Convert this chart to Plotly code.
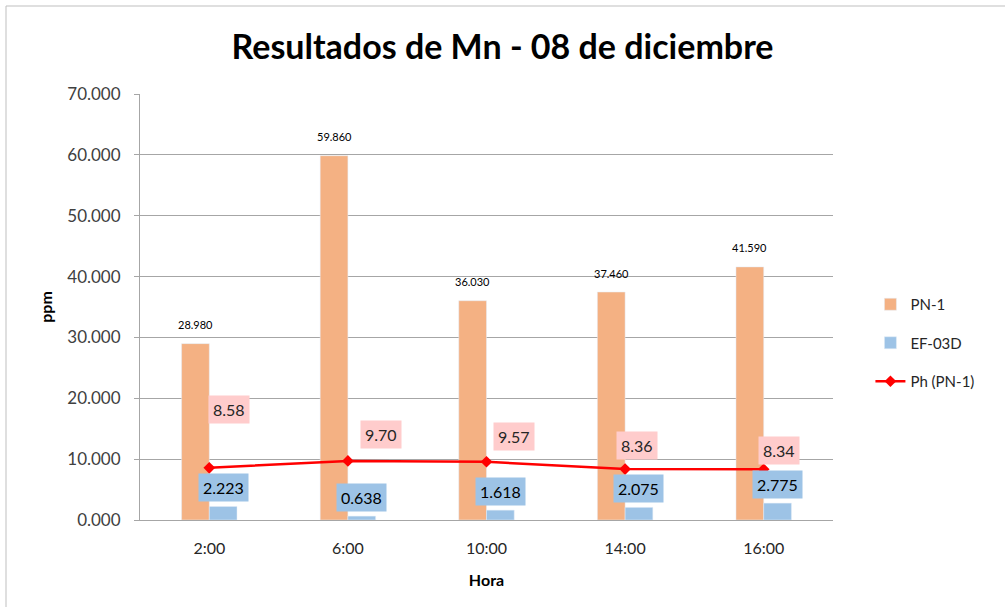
import plotly.graph_objects as go

horas = ["2:00", "6:00", "10:00", "14:00", "16:00"]
pn1 = [28.980, 59.860, 36.030, 37.460, 41.590]
ef03d = [2.223, 0.638, 1.618, 2.075, 2.775]
ph_pn1 = [8.58, 9.70, 9.57, 8.36, 8.34]
y_ticks = [0, 10, 20, 30, 40, 50, 60, 70]

# label offsets (pixels) for the pH labels, as placed in the original
ph_label_dx = [20, 33, 27, 12, 15]
ph_label_dy = [58, 26, 25, 24, 19]

FONT = "Lato, 'Open Sans', sans-serif"
ORANGE = "#F4B183"
BLUE = "#9DC3E6"
PINK = "#FFCCCC"
RED = "#FF0000"
GRID = "#A6A6A6"

fig = go.Figure()
fig.add_trace(go.Bar(x=horas, y=pn1, name="PN-1", marker_color=ORANGE,
                     legendgroup="a"))
fig.add_trace(go.Bar(x=horas, y=ef03d, name="EF-03D", marker_color=BLUE,
                     legendgroup="b"))
fig.add_trace(go.Scatter(x=horas, y=ph_pn1, name="Ph (PN-1)", mode="lines+markers",
                         line=dict(color=RED, width=2.5),
                         marker=dict(symbol="diamond", size=9, color=RED),
                         legendgroup="c"))

half = 13.8
annotations = []
for h, v in zip(horas, pn1):
    annotations.append(dict(x=h, y=v, xref="x", yref="y", text=f"{v:.3f}",
                            showarrow=False, xshift=-half, yshift=19,
                            font=dict(family=FONT, size=11, color="#000000")))
for h, v in zip(horas, ef03d):
    annotations.append(dict(x=h, y=v, xref="x", yref="y", text=f"{v:.3f}",
                            showarrow=False, xshift=half, yshift=19,
                            bgcolor=BLUE, borderpad=4,
                            font=dict(family=FONT, size=16, color="#000000")))
for h, v, dx, dy in zip(horas, ph_pn1, ph_label_dx, ph_label_dy):
    annotations.append(dict(x=h, y=v, xref="x", yref="y", text=f"{v:.2f}",
                            showarrow=False, xshift=dx, yshift=dy,
                            bgcolor=PINK, borderpad=4,
                            font=dict(family=FONT, size=16, color="#262626")))

fig.update_layout(
    width=1005, height=607,
    margin=dict(l=140, r=172, t=94, b=87),
    paper_bgcolor="white", plot_bgcolor="white",
    font=dict(family=FONT, color="#404040"),
    title=dict(text="<b>Resultados de Mn - 08 de diciembre</b>",
               x=0.5, xanchor="center", y=1 - 47 / 607, yanchor="middle",
               font=dict(family=FONT, size=34, color="#000000")),
    barmode="group", bargap=0.6, bargroupgap=0,
    legend=dict(x=1.054, y=0.4155, xanchor="left", yanchor="middle",
                font=dict(family=FONT, size=15, color="#262626"),
                tracegroupgap=16, traceorder="grouped"),
    annotations=annotations,
    showlegend=True,
)
fig.update_xaxes(
    showline=True, linecolor=GRID, linewidth=1, ticks="",
    tickfont=dict(family=FONT, size=16, color="#262626"),
    ticklabelstandoff=14,
    title=dict(text="<b>Hora</b>", font=dict(family=FONT, size=16, color="#000000"),
               standoff=18),
)
fig.update_yaxes(
    range=[0, 70], tickvals=y_ticks, tickformat=".3f",
    showgrid=True, gridcolor=GRID, gridwidth=1,
    showline=True, linecolor=GRID, linewidth=1,
    ticks="outside", ticklen=5, tickcolor=GRID,
    ticklabelstandoff=10,
    tickfont=dict(family=FONT, size=17, color="#404040"),
    zeroline=False,
    title=dict(text="<b>ppm</b>", font=dict(family=FONT, size=16, color="#000000"),
               standoff=10),
)
# chart frame (top and left edges as visible in the original)
fig.add_shape(type="line", xref="paper", yref="paper",
              x0=(6 - 140) / 693, x1=(1005 - 140) / 693,
              y0=1 + (94 - 6) / 426, y1=1 + (94 - 6) / 426,
              line=dict(color="#BFBFBF", width=1))
fig.add_shape(type="line", xref="paper", yref="paper",
              x0=(6 - 140) / 693, x1=(6 - 140) / 693,
              y0=1 + (94 - 6) / 426, y1=-87 / 426,
              line=dict(color="#BFBFBF", width=1))

fig.write_html("out.html", config={"displayModeBar": False},
               post_script="document.body.style.margin='0';")
